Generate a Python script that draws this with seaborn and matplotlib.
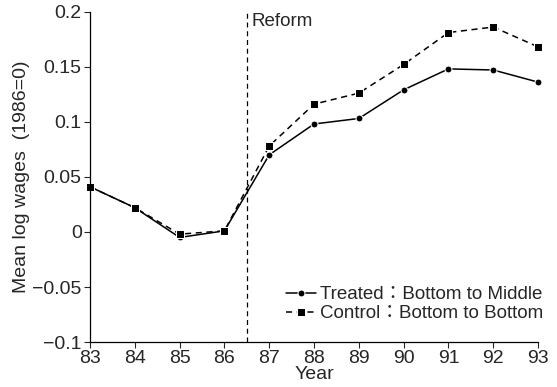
import matplotlib
matplotlib.use("Agg")
import matplotlib.pyplot as plt
import seaborn as sns
import pandas as pd

years = [83, 84, 85, 86, 87, 88, 89, 90, 91, 92, 93]
treated = [0.041, 0.022, -0.005, 0.001, 0.070, 0.098, 0.103, 0.129, 0.148, 0.147, 0.136]
control = [0.041, 0.022, -0.002, 0.001, 0.078, 0.116, 0.126, 0.152, 0.181, 0.186, 0.168]
labels = ["Treated\uff1aBottom to Middle", "Control\uff1aBottom to Bottom"]
yticks = [-0.1, -0.05, 0, 0.05, 0.1, 0.15, 0.2]
ytick_labels = ["\u22120.1", "\u22120.05", "0", "0.05", "0.1", "0.15", "0.2"]

sns.set_style("ticks")
plt.rcParams["font.family"] = ["Liberation Sans", "Noto Sans CJK JP", "DejaVu Sans"]

df = pd.DataFrame({"year": years, "treated": treated, "control": control})

fig = plt.figure(figsize=(5.57, 3.87), dpi=100)
ax = fig.add_axes([0.1616, 0.116, 0.8044, 0.854])

sns.lineplot(data=df, x="year", y="treated", ax=ax, color="black", marker="o",
             markersize=5, linewidth=1.1, label=labels[0], clip_on=False)
sns.lineplot(data=df, x="year", y="control", ax=ax, color="black", marker="s",
             markersize=6, linewidth=1.1, linestyle=(0, (4, 3)), label=labels[1],
             clip_on=False)

ax.axvline(86.5, color="black", linestyle=(0, (4, 3)), linewidth=0.9)
ax.text(86.6, 0.199, "Reform", fontsize=13.5, va="top", ha="left")

ax.set_xlim(83, 93)
ax.set_ylim(-0.1, 0.2)
ax.set_xticks(years)
ax.set_xticklabels([str(y) for y in years], fontsize=14)
ax.set_yticks(yticks)
ax.set_yticklabels(ytick_labels, fontsize=14)
ax.tick_params(direction="out", length=4, width=0.8, pad=2)
ax.set_xlabel("Year", fontsize=14, labelpad=-1)
ax.set_ylabel("Mean log wages  (1986=0)", fontsize=14, labelpad=2)
sns.despine(ax=ax)
for s in ["left", "bottom"]:
    ax.spines[s].set_linewidth(0.9)
    ax.spines[s].set_color("black")

ax.legend(loc="lower right", bbox_to_anchor=(1.04, 0.02), frameon=False, fontsize=13.5,
          handlelength=1.6, handletextpad=0.2, labelspacing=0.1, borderpad=0.2)

fig.savefig("out.png", dpi=100)
